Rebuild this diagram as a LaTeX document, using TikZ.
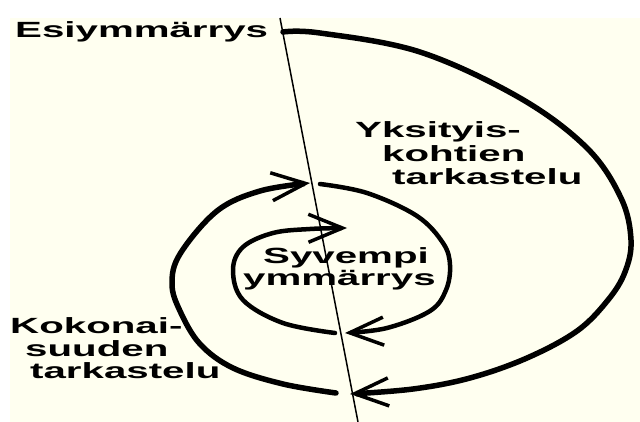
\documentclass[tikz,border=0pt]{standalone}
\usepackage{fontspec}
\setmainfont{Liberation Sans}
\usetikzlibrary{arrows.meta}
\definecolor{cream}{RGB}{255,255,240}
\tikzset{
  lbl/.style={anchor=base west,inner sep=0pt,font=\bfseries\fontsize{22}{24}\selectfont},
  axisline/.style={line width=1.5pt,black},
  spiral/.style={line width=5.5pt,black,line cap=round},
  inner/.style={line width=4.5pt,black,line cap=round},
  barb/.style={-{Straight Barb[length=34pt,width=28pt,line width=3.5pt]}}
}
\newcommand{\wide}[1]{\scalebox{1.83}[1]{#1}}
\begin{document}
\begin{tikzpicture}[x=1pt,y=-1pt]
\useasboundingbox (0,0) rectangle (640,422);
\fill[cream] (10,18) rectangle (640,422);
% axis line
\coordinate (top) at (280,18);
\coordinate (bot) at (358,422);
\draw[axisline] (top) -- (bot);
% arrow tips on the line
\coordinate (s0) at (283,32);
\coordinate (t1) at (350,394);
\coordinate (s2) at (336,393);
\coordinate (t2) at (310,183);
\coordinate (s3) at (320,184);
\coordinate (t3) at (345,333);
\coordinate (s4) at (335,333);
\coordinate (t4) at (347,228);
% outer loop
\draw[spiral,barb] plot[smooth,tension=0.6] coordinates {(s0) (320,33) (420,52) (520,98) (587,148) (621,198) (631,240) (625,272) (608,300) (577,331) (527,358) (470,378) (413,389) (t1)};
\draw[spiral,barb] plot[smooth,tension=0.6] coordinates {(s2) (283,384) (233,368) (200,344) (180,311) (172,284) (180,254) (217,211) (260,191) (t2)};
% middle loop
\draw[inner,barb] plot[smooth,tension=0.6] coordinates {(s3) (367,193) (417,216) (443,243) (450,265) (446,290) (430,311) (387,328) (t3)};
% inner loop
\draw[inner,barb] plot[smooth,tension=0.6] coordinates {(s4) (283,323) (243,300) (233,270) (243,247) (273,233) (310,229) (t4)};
% labels
\node[lbl] (esi) at (15,38) {\wide{Esiymmärrys}};
\node[lbl] (yk1) at (355,138) {\wide{Yksityis-}};
\node[lbl] (yk2) at (382,162) {\wide{kohtien}};
\node[lbl] (yk3) at (392,185) {\wide{tarkastelu}};
\node[lbl] (sy1) at (263,263) {\wide{Syvempi}};
\node[lbl] (sy2) at (243,285) {\wide{ymmärrys}};
\node[lbl] (ko1) at (10,333) {\wide{Kokonai-}};
\node[lbl] (ko2) at (25,356) {\wide{suuden}};
\node[lbl] (ko3) at (30,378) {\wide{tarkastelu}};
\end{tikzpicture}
\end{document}
